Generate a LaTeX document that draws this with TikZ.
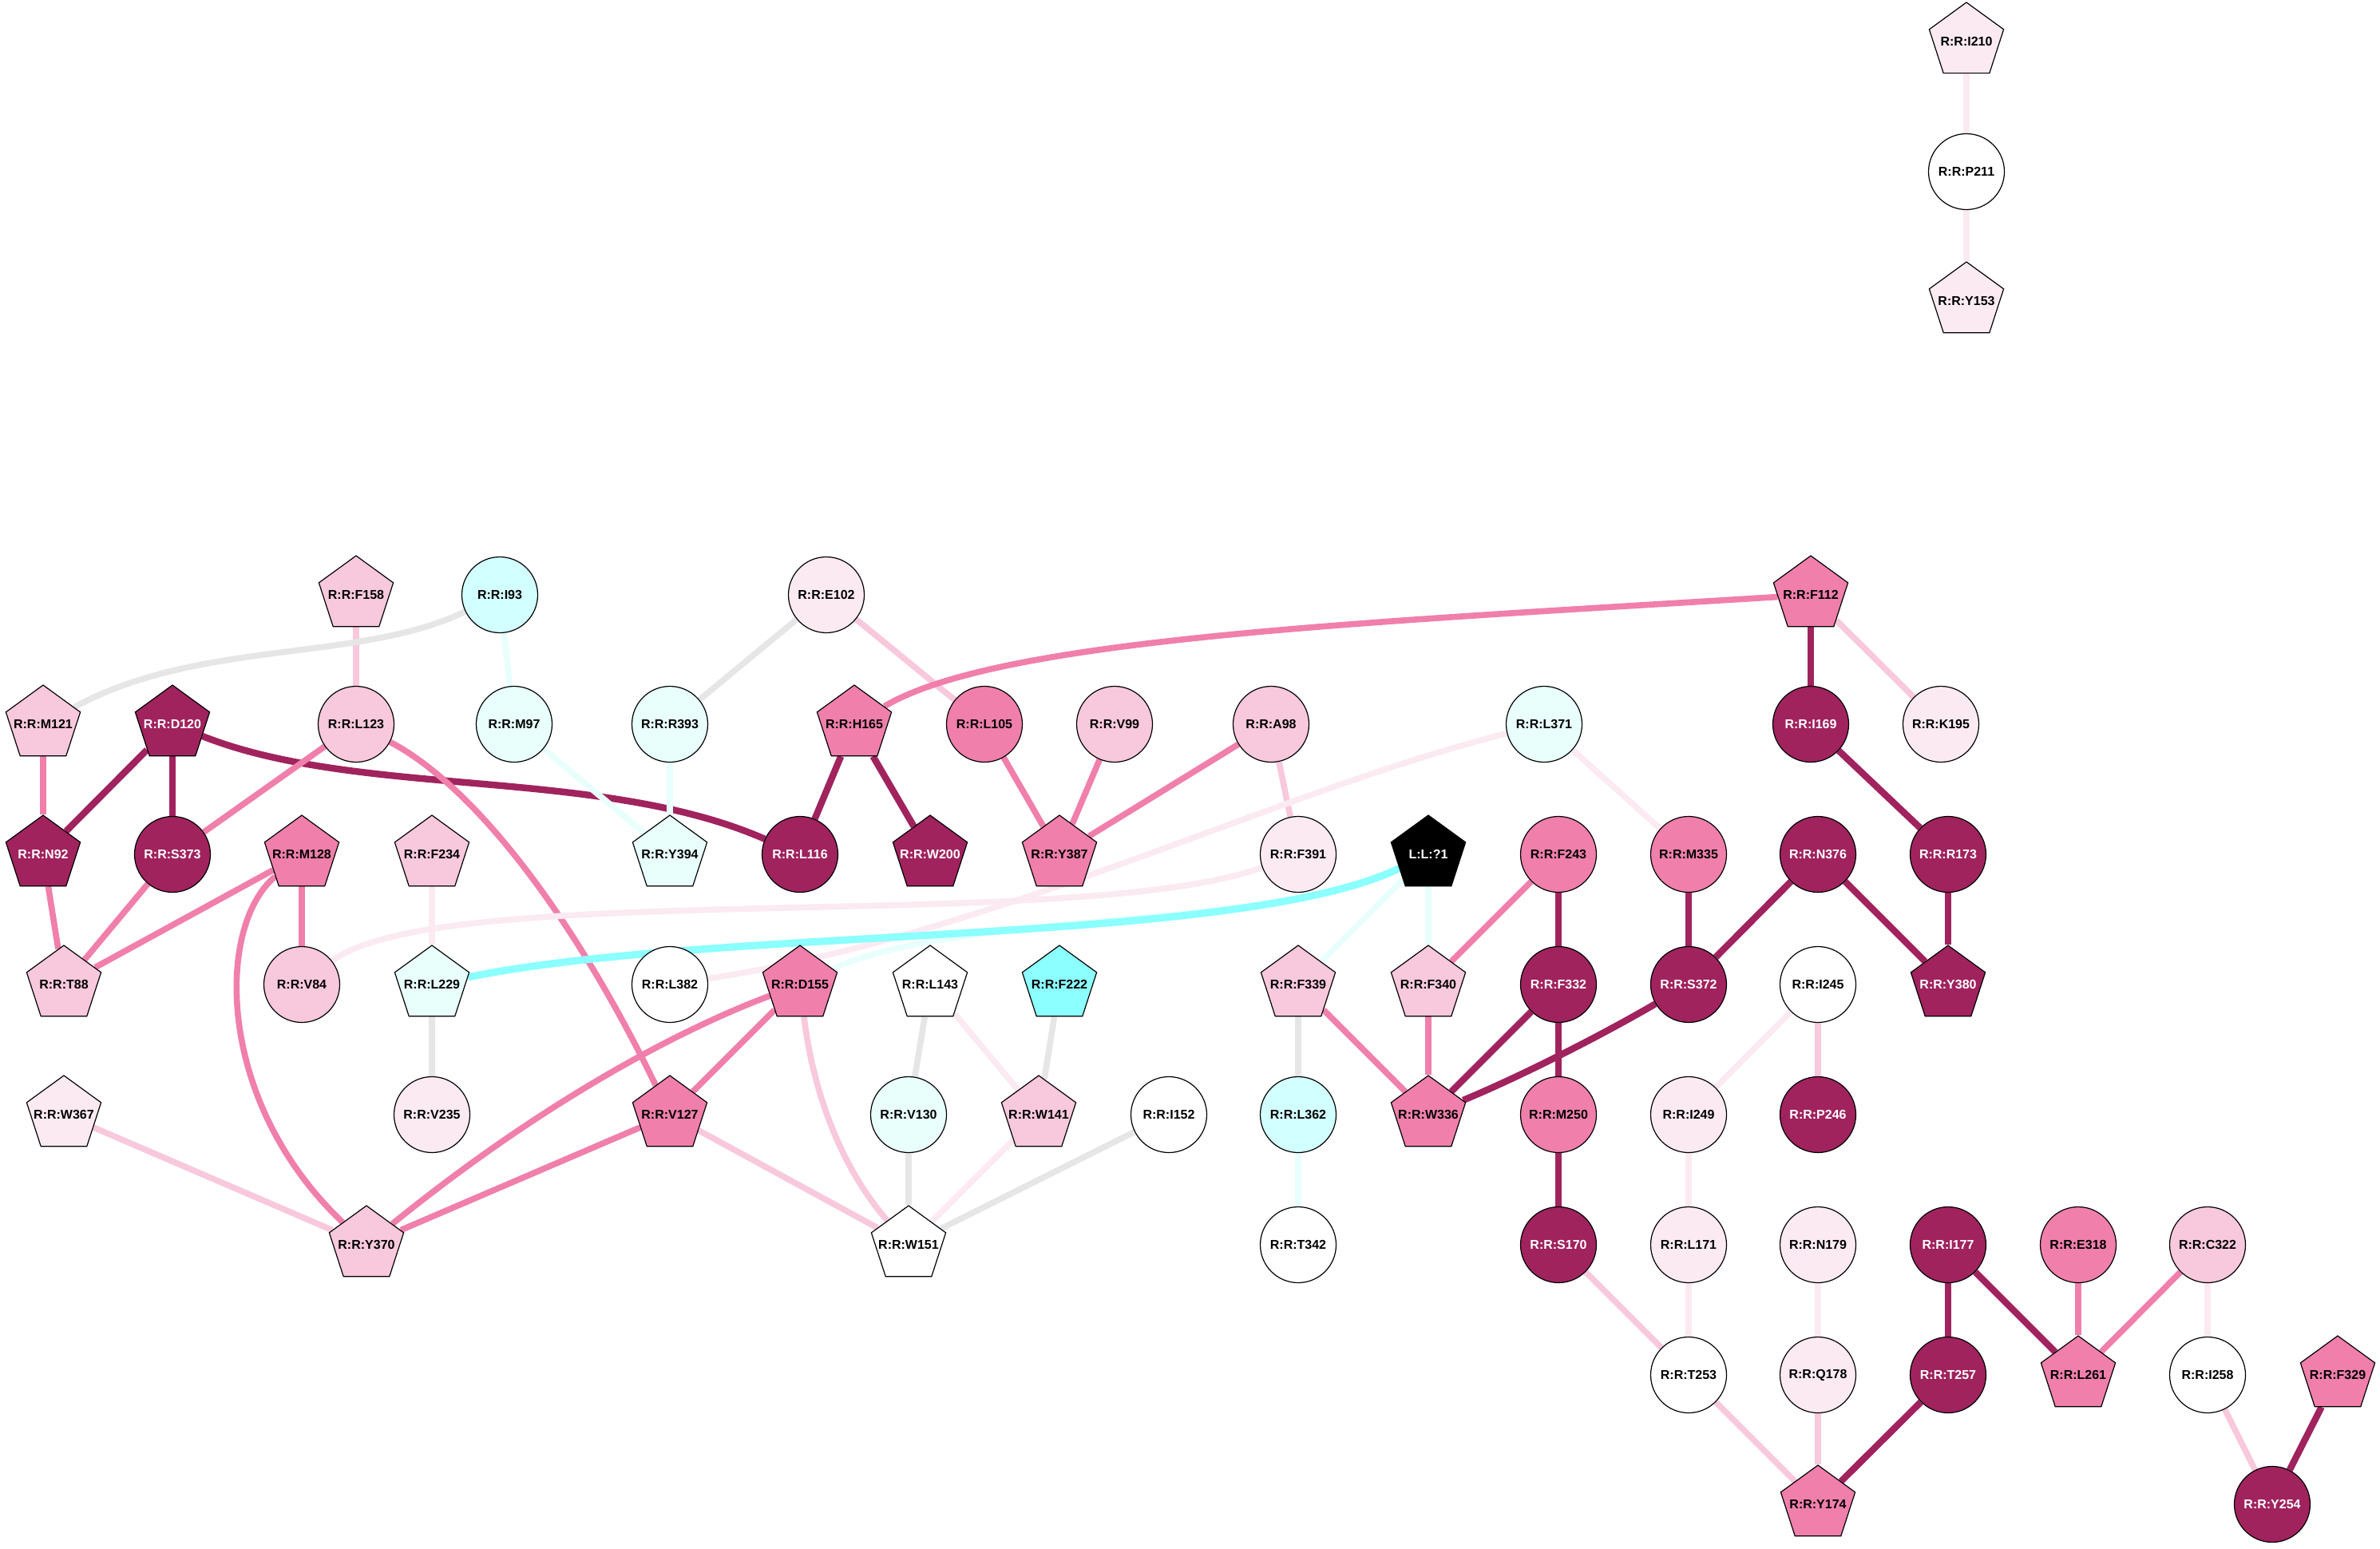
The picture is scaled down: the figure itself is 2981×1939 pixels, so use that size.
\documentclass[tikz,border=0pt]{standalone}
\usepackage{fontspec}
\setmainfont{Liberation Sans}
\usetikzlibrary{shapes.geometric}
\pgfdeclarelayer{edgelayer}
\pgfsetlayers{edgelayer,main}
\definecolor{cdark}{HTML}{A0235E}
\definecolor{cmed}{HTML}{F07FAB}
\definecolor{clight}{HTML}{F8C8DC}
\definecolor{cvlight}{HTML}{FBEAF2}
\definecolor{cgrey}{HTML}{E6E6E6}
\definecolor{ccyv}{HTML}{E8FFFC}
\definecolor{ccym}{HTML}{D2FFFF}
\definecolor{ccys}{HTML}{8CFFFF}
\newcommand{\mylbl}[1]{\makebox[0pt]{#1}}
\begin{document}
\begin{tikzpicture}[x=0.5pt,y=-0.5pt,
  nbase/.style={draw=black,line width=0.6pt,inner sep=0pt,font=\bfseries\fontsize{8}{9}\selectfont},
  circ/.style={nbase,circle,minimum size=47.5pt},
  pent/.style={nbase,regular polygon,regular polygon sides=5,minimum size=49pt},
  fd/.style={fill=cdark,text=white},
  fm/.style={fill=cmed},
  fl/.style={fill=clight},
  fv/.style={fill=cvlight},
  fw/.style={fill=white},
  fcv/.style={fill=ccyv},
  fcm/.style={fill=ccym},
  fcs/.style={fill=ccys},
  fk/.style={fill=black,text=white},
  ebase/.style={line width=3.8pt},
  ed/.style={ebase,draw=cdark,line width=4.2pt},
  em/.style={ebase,draw=cmed},
  el/.style={ebase,draw=clight},
  ev/.style={ebase,draw=cvlight},
  eg/.style={ebase,draw=cgrey},
  ec/.style={ebase,draw=ccyv},
  ecs/.style={draw=ccys,line width=4.6pt}]
\useasboundingbox (0,0) rectangle (2981,1939);
% nodes
\node[pent,fv] (I210) at (2463,52) {\mylbl{R:R:I210}};
\node[circ,fw] (P211) at (2463,215) {\mylbl{R:R:P211}};
\node[pent,fv] (Y153) at (2463,377) {\mylbl{R:R:Y153}};
\node[pent,fl] (F158) at (446,745) {\mylbl{R:R:F158}};
\node[circ,fcm] (I93) at (626,745) {\mylbl{R:R:I93}};
\node[circ,fv] (E102) at (1035,745) {\mylbl{R:R:E102}};
\node[pent,fm] (F112) at (2268,745) {\mylbl{R:R:F112}};
\node[pent,fl] (M121) at (54,907) {\mylbl{R:R:M121}};
\node[pent,fd] (D120) at (216,907) {\mylbl{R:R:D120}};
\node[circ,fl] (L123) at (446,907) {\mylbl{R:R:L123}};
\node[circ,fcv] (M97) at (644,907) {\mylbl{R:R:M97}};
\node[circ,fcv] (R393) at (839,907) {\mylbl{R:R:R393}};
\node[pent,fm] (H165) at (1070,907) {\mylbl{R:R:H165}};
\node[circ,fm] (L105) at (1233,907) {\mylbl{R:R:L105}};
\node[circ,fl] (V99) at (1396,907) {\mylbl{R:R:V99}};
\node[circ,fl] (A98) at (1592,907) {\mylbl{R:R:A98}};
\node[circ,fcv] (L371) at (1934,907) {\mylbl{R:R:L371}};
\node[circ,fd] (I169) at (2268,907) {\mylbl{R:R:I169}};
\node[circ,fv] (K195) at (2431,907) {\mylbl{R:R:K195}};
\node[pent,fd] (N92) at (54,1070) {\mylbl{R:R:N92}};
\node[circ,fd] (S373) at (216,1070) {\mylbl{R:R:S373}};
\node[pent,fm] (M128) at (378,1070) {\mylbl{R:R:M128}};
\node[pent,fl] (F234) at (541,1070) {\mylbl{R:R:F234}};
\node[pent,fcv] (Y394) at (839,1070) {\mylbl{R:R:Y394}};
\node[circ,fd] (L116) at (1002,1070) {\mylbl{R:R:L116}};
\node[pent,fd] (W200) at (1165,1070) {\mylbl{R:R:W200}};
\node[pent,fm] (Y387) at (1327,1070) {\mylbl{R:R:Y387}};
\node[circ,fv] (F391) at (1626,1070) {\mylbl{R:R:F391}};
\node[pent,fk] (LL1) at (1789,1070) {\mylbl{L:L:?1}};
\node[circ,fm] (F243) at (1952,1070) {\mylbl{R:R:F243}};
\node[circ,fm] (M335) at (2115,1070) {\mylbl{R:R:M335}};
\node[circ,fd] (N376) at (2277,1070) {\mylbl{R:R:N376}};
\node[circ,fd] (R173) at (2440,1070) {\mylbl{R:R:R173}};
\node[pent,fl] (T88) at (80,1233) {\mylbl{R:R:T88}};
\node[circ,fl] (V84) at (378,1233) {\mylbl{R:R:V84}};
\node[pent,fcv] (L229) at (541,1233) {\mylbl{R:R:L229}};
\node[circ,fw] (L382) at (839,1233) {\mylbl{R:R:L382}};
\node[pent,fm] (D155) at (1002,1233) {\mylbl{R:R:D155}};
\node[pent,fw] (L143) at (1165,1233) {\mylbl{R:R:L143}};
\node[pent,fcs] (F222) at (1327,1233) {\mylbl{R:R:F222}};
\node[pent,fl] (F339) at (1626,1233) {\mylbl{R:R:F339}};
\node[pent,fl] (F340) at (1789,1233) {\mylbl{R:R:F340}};
\node[circ,fd] (F332) at (1952,1233) {\mylbl{R:R:F332}};
\node[circ,fd] (S372) at (2115,1233) {\mylbl{R:R:S372}};
\node[circ,fw] (I245) at (2277,1233) {\mylbl{R:R:I245}};
\node[pent,fd] (Y380) at (2440,1233) {\mylbl{R:R:Y380}};
\node[pent,fv] (W367) at (80,1396) {\mylbl{R:R:W367}};
\node[circ,fv] (V235) at (541,1396) {\mylbl{R:R:V235}};
\node[pent,fm] (V127) at (839,1396) {\mylbl{R:R:V127}};
\node[circ,fcv] (V130) at (1138,1396) {\mylbl{R:R:V130}};
\node[pent,fl] (W141) at (1301,1396) {\mylbl{R:R:W141}};
\node[circ,fw] (I152) at (1464,1396) {\mylbl{R:R:I152}};
\node[circ,fcm] (L362) at (1626,1396) {\mylbl{R:R:L362}};
\node[pent,fm] (W336) at (1789,1396) {\mylbl{R:R:W336}};
\node[circ,fm] (M250) at (1952,1396) {\mylbl{R:R:M250}};
\node[circ,fv] (I249) at (2115,1396) {\mylbl{R:R:I249}};
\node[circ,fd] (P246) at (2277,1396) {\mylbl{R:R:P246}};
\node[pent,fl] (Y370) at (459,1559) {\mylbl{R:R:Y370}};
\node[pent,fw] (W151) at (1138,1559) {\mylbl{R:R:W151}};
\node[circ,fw] (T342) at (1626,1559) {\mylbl{R:R:T342}};
\node[circ,fd] (S170) at (1952,1559) {\mylbl{R:R:S170}};
\node[circ,fv] (L171) at (2115,1559) {\mylbl{R:R:L171}};
\node[circ,fv] (N179) at (2277,1559) {\mylbl{R:R:N179}};
\node[circ,fd] (I177) at (2440,1559) {\mylbl{R:R:I177}};
\node[circ,fm] (E318) at (2603,1559) {\mylbl{R:R:E318}};
\node[circ,fl] (C322) at (2765,1559) {\mylbl{R:R:C322}};
\node[circ,fw] (T253) at (2115,1722) {\mylbl{R:R:T253}};
\node[circ,fv] (Q178) at (2277,1722) {\mylbl{R:R:Q178}};
\node[circ,fd] (T257) at (2440,1722) {\mylbl{R:R:T257}};
\node[pent,fm] (L261) at (2603,1722) {\mylbl{R:R:L261}};
\node[circ,fw] (I258) at (2765,1722) {\mylbl{R:R:I258}};
\node[pent,fm] (F329) at (2928,1722) {\mylbl{R:R:F329}};
\node[pent,fm] (Y174) at (2277,1884) {\mylbl{R:R:Y174}};
\node[circ,fd] (Y254) at (2846,1884) {\mylbl{R:R:Y254}};
% edges
\begin{pgfonlayer}{edgelayer}
\draw[ev] (I210) -- (P211);
\draw[ev] (P211) -- (Y153);
\draw[el] (F158) -- (L123);
\draw[eg] (I93) .. controls (450,830) and (250,800) .. (M121);
\draw[ec] (I93) -- (M97);
\draw[eg] (E102) -- (R393);
\draw[el] (E102) -- (L105);
\draw[em] (F112) .. controls (1700,780) and (1250,800) .. (H165);
\draw[ed] (F112) -- (I169);
\draw[el] (F112) -- (K195);
\draw[em] (M121) -- (N92);
\draw[ed] (D120) -- (N92);
\draw[ed] (D120) -- (S373);
\draw[ed] (D120) .. controls (450,1000) and (750,960) .. (L116);
\draw[em] (L123) -- (S373);
\draw[em] (L123) .. controls (595,985) and (720,1150) .. (V127);
\draw[ec] (M97) -- (Y394);
\draw[ec] (R393) -- (Y394);
\draw[ed] (H165) -- (L116);
\draw[ed] (H165) -- (W200);
\draw[em] (L105) -- (Y387);
\draw[em] (V99) -- (Y387);
\draw[em] (A98) -- (Y387);
\draw[el] (A98) -- (F391);
\draw[ev] (L371) .. controls (1600,990) and (1250,1170) .. (L382);
\draw[ev] (L371) -- (M335);
\draw[ed] (I169) -- (R173);
\draw[em] (N92) -- (T88);
\draw[em] (S373) -- (T88);
\draw[em] (M128) -- (T88);
\draw[em] (M128) -- (V84);
\draw[em] (M128) .. controls (270,1160) and (270,1380) .. (Y370);
\draw[ev] (F234) -- (L229);
\draw[ev] (V84) .. controls (550,1100) and (1350,1170) .. (F391);
\draw[ec] (LL1) .. controls (1600,1165) and (1200,1140) .. (D155);
\draw[ecs] (LL1) .. controls (1550,1185) and (900,1160) .. (L229);
\draw[ec] (LL1) -- (F339);
\draw[ec] (LL1) -- (F340);
\draw[em] (F243) -- (F340);
\draw[ed] (F243) -- (F332);
\draw[ed] (M335) -- (S372);
\draw[ed] (N376) -- (S372);
\draw[ed] (N376) -- (Y380);
\draw[ed] (R173) -- (Y380);
\draw[eg] (L229) -- (V235);
\draw[em] (D155) -- (V127);
\draw[em] (D155) .. controls (850,1290) and (680,1380) .. (Y370);
\draw[el] (D155) .. controls (1020,1380) and (1060,1470) .. (W151);
\draw[eg] (L143) -- (V130);
\draw[ev] (L143) -- (W141);
\draw[eg] (F222) -- (W141);
\draw[eg] (F339) -- (L362);
\draw[em] (F339) -- (W336);
\draw[em] (F340) -- (W336);
\draw[ed] (F332) -- (W336);
\draw[ed] (F332) -- (M250);
\draw[ed] (S372) .. controls (2000,1300) and (1900,1350) .. (W336);
\draw[ev] (I245) -- (I249);
\draw[el] (I245) -- (P246);
\draw[el] (W367) -- (Y370);
\draw[em] (V127) -- (Y370);
\draw[el] (V127) -- (W151);
\draw[eg] (V130) -- (W151);
\draw[ev] (W141) -- (W151);
\draw[eg] (I152) -- (W151);
\draw[ec] (L362) -- (T342);
\draw[ed] (M250) -- (S170);
\draw[ev] (I249) -- (L171);
\draw[el] (S170) -- (T253);
\draw[ev] (L171) -- (T253);
\draw[ev] (N179) -- (Q178);
\draw[ed] (I177) -- (T257);
\draw[ed] (I177) -- (L261);
\draw[em] (E318) -- (L261);
\draw[em] (C322) -- (L261);
\draw[ev] (C322) -- (I258);
\draw[el] (T253) -- (Y174);
\draw[el] (Q178) -- (Y174);
\draw[ed] (T257) -- (Y174);
\draw[el] (I258) -- (Y254);
\draw[ed] (F329) -- (Y254);
\end{pgfonlayer}
\end{tikzpicture}
\end{document}
